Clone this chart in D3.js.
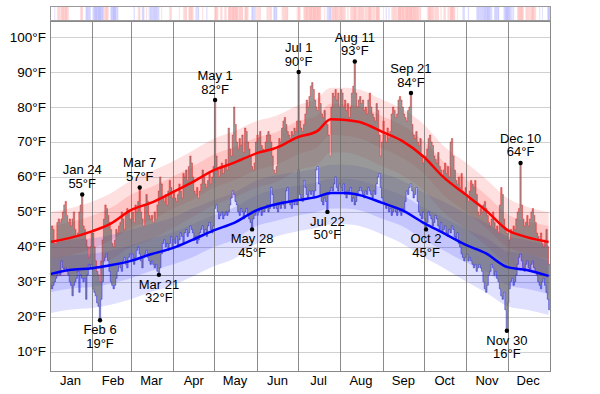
<!DOCTYPE html>
<html>
<head>
<meta charset="utf-8">
<script src="https://cdn.jsdelivr.net/npm/d3@7"></script>
<style>
body { margin: 0; background: #fff; }
text { font-family: "Liberation Sans", Arial, sans-serif; font-size: 13px; fill: #000; }
</style>
</head>
<body>
<svg id="chart" width="600" height="394"></svg>
<script>
var year = 2015;
var monthNames = ["Jan","Feb","Mar","Apr","May","Jun","Jul","Aug","Sep","Oct","Nov","Dec"];
var yTicks = [10,20,30,40,50,60,70,80,90,100];

// observed daily highs / lows (°F), one row per month
var dailyHigh = [].concat(
  [46,46,45,41,41,47,48,47,48,50,52,53,49,47,48,46,48,50,45,43,44,50,52,55,46,45,42,40,37,40,44],
  [44,40,36,33,32,30,36,42,48,52,51,49,47,45,41,40,42,45,44,46,47,50,48,45,49,51,50,48],
  [48,50,47,52,50,53,57,50,48,46,52,55,53,49,48,49,47,50,48,52,56,60,58,54,53,55,52,56,59,57,54],
  [56,54,53,55,58,56,54,61,60,62,59,63,66,64,60,56,55,57,54,56,58,62,60,58,57,59,61,58,60,63],
  [82,66,62,60,63,64,61,63,65,62,74,68,66,72,80,75,70,68,71,69,72,67,74,73,70,68,66,63,62,64,70],
  [72,71,73,69,68,67,70,72,73,72,70,66,62,61,63,68,71,70,74,76,77,75,73,72,71,73,72,74,73,76],
  [90,76,74,73,75,78,82,80,83,86,87,85,82,80,79,84,81,78,77,79,76,75,72,66,80,84,83,85,82,84,80],
  [85,84,80,82,79,81,77,80,84,86,93,84,80,82,83,81,82,79,80,78,82,84,80,78,77,76,81,79,72,66,70],
  [76,72,70,74,71,73,78,80,79,77,78,82,83,82,80,78,77,76,79,80,84,75,72,71,73,70,69,71,66,64],
  [65,66,68,71,72,70,69,66,65,64,67,63,62,60,62,64,61,63,60,70,71,66,62,59,58,60,57,61,56,55,57],
  [55,53,56,59,58,57,59,55,50,49,51,50,52,53,51,49,47,46,48,50,47,45,46,44,52,57,55,48,45,44],
  [38,42,45,44,46,45,48,50,51,64,52,48,46,47,49,46,48,50,51,49,47,44,43,42,44,41,40,42,45,40,35]
);
var dailyLow = [].concat(
  [29,28,29,30,31,32,33,32,36,34,33,34,33,32,30,29,26,29,30,31,33,27,32,31,30,31,25,32,35,34,35],
  [28,27,26,24,23,19,25,30,36,37,38,36,33,30,29,28,29,31,33,35,34,33,36,37,35,34,37,38],
  [36,38,35,37,39,40,38,36,34,37,38,39,37,36,35,36,35,34,35,33,32,34,38,41,42,40,41,39,41,43,40],
  [42,41,43,40,42,44,43,41,44,45,43,44,46,45,44,42,43,41,42,44,45,46,44,45,43,46,47,45,44,46],
  [51,52,50,48,49,50,48,49,50,49,50,52,54,56,55,53,52,50,49,51,50,48,50,51,49,48,47,45,48,49,50],
  [49,50,51,49,50,50,51,52,50,51,57,55,51,52,51,50,52,51,53,52,51,56,57,53,52,51,53,52,53,52],
  [62,55,54,53,59,57,55,54,56,55,56,54,56,62,63,58,55,53,52,54,53,50,55,56,57,56,58,60,57,56,58],
  [57,56,58,55,54,56,55,57,53,54,52,53,55,56,57,56,55,54,56,55,57,56,55,54,56,55,58,60,61,57,54],
  [53,52,51,52,50,51,49,50,51,50,49,51,50,49,51,50,53,56,55,57,58,56,54,55,57,53,50,49,48,50],
  [48,45,47,50,49,48,46,47,49,48,46,45,47,44,45,46,44,43,45,44,46,45,43,42,44,41,40,38,37,36,37],
  [38,36,37,36,35,34,35,33,34,35,34,33,30,28,27,29,32,33,35,34,32,33,31,30,28,26,25,27,22,16],
  [24,28,30,31,29,30,32,35,37,38,36,34,33,35,36,34,33,35,36,34,33,32,30,29,28,30,31,29,27,25,22]
);

// normals, sampled on these days of the year
var normDays = [0,14,31,45,59,73,90,104,120,134,151,165,181,195,205,216,226,243,257,273,287,304,318,334,348,364];
var normHigh = [41.4,42.5,44.5,46.8,50.5,52.5,55.7,58.5,62,64,66.8,68.3,71.4,73.1,76.5,76.3,75.7,72.8,70.3,65.7,60,54.8,50.5,44.8,42.8,41.4];
var normLow  = [32.2,33.4,33.9,34.8,36,37.8,39.7,42,44.8,46.8,50.5,52.2,53.4,54.3,55.4,55.4,54.8,52.5,50.5,46.8,44,40.5,38.2,34.2,33.4,31.7];
var highP90 = [50,51,53,55.5,59,61.5,64.5,67.5,71,73,76,77.5,80.5,82.5,85.5,85.5,85,82,79.5,75,69,64,59.5,54,51.5,50];
var highP75 = [46,47,49,51.3,55,57,60.2,63,66.5,68.5,71.3,72.8,76,77.6,81,80.8,80.2,77.3,74.8,70.2,64.5,59.3,55,49.3,47.3,46];
var highP25 = [36.5,37.5,39.5,42,45.5,47.5,51,53.5,57,59,62,63.5,66.5,68.5,72,71.8,71,68,65.5,61,55,50,45.5,40,38,36.5];
var highP10 = [31,32,34,36.5,40,42,45.5,48.5,52,54,57,58.5,62,63.5,67,67,66,63,60.5,56,50,45,40.5,35,33,31];
var lowP90 = [41,42,42.5,43.5,45,46.5,48.5,51,53.5,55.5,59,60.5,61.5,62.5,63.5,63.5,63,61,59,55.5,53,49.5,47,43,42,40.5];
var lowP75 = [36.5,37.5,38,39,40.5,42.2,44.2,46.5,49.2,51.2,54.8,56.5,57.5,58.5,59.5,59.5,59,56.8,54.8,51.2,48.5,45,42.7,38.7,38,36];
var lowP25 = [27,28,28.5,29.5,31,33,35,37,40,42,46,47.5,49,50,51,51,50.5,48,46,42,39,35.5,33,29,28,26.5];
var lowP10 = [21,22,22.5,23.5,25,27,29,31.5,34.5,36.5,41,43,44.5,45.5,46.5,46.5,46,43.5,41,37,34,30,27,23,22,20.5];

// labelled extremes: month index, day, °F, below the point?
var annoMonth = [0,1,2,2,4,4,6,6,7,8,9,10,11];
var annoDay   = [24,6,7,21,1,28,1,22,11,21,2,30,10];
var annoTemp  = [55,19,57,32,82,45,90,50,93,84,45,16,64];
var annoBelow = [false,true,false,true,false,true,false,true,false,false,true,true,false];

var svg = d3.select("#chart");
var start = new Date(year, 0, 1), end = new Date(year + 1, 0, 1);
var x = d3.scaleTime().domain([start, end]).range([50, 550]);
var y = d3.scaleLinear().domain([4.5, 104.6]).range([371, 21]);
function dayDate(i) { return d3.timeDay.offset(start, i); }

var plot = svg.append("g");

// horizontal grid
plot.selectAll("line.h").data(yTicks).enter().append("line")
  .attr("x1", 50).attr("x2", 550)
  .attr("y1", function(t) { return Math.round(y(t)) + 0.5; })
  .attr("y2", function(t) { return Math.round(y(t)) + 0.5; })
  .attr("stroke", "#d0d0d0");
plot.append("line")
  .attr("x1", 50).attr("x2", 550)
  .attr("y1", Math.round(y(32)) + 0.5).attr("y2", Math.round(y(32)) + 0.5)
  .attr("stroke", "#888");

// percentile bands
var normIdx = normDays.map(function(d, i) { return i; });
function band(lo, hi, fill) {
  plot.append("path").datum(normIdx)
    .attr("d", d3.area()
      .curve(d3.curveMonotoneX)
      .x(function(i) { return x(dayDate(normDays[i])); })
      .y0(function(i) { return y(lo[i]); })
      .y1(function(i) { return y(hi[i]); }))
    .attr("fill", fill);
}
band(highP10, highP90, "rgba(255,0,0,0.12)");
band(highP25, highP75, "rgba(255,0,0,0.12)");
band(lowP10, lowP90, "rgba(0,0,255,0.12)");
band(lowP25, lowP75, "rgba(0,0,255,0.12)");

// daily range bars as a step area
var days = d3.range(dailyHigh.length + 1);
function hi(i) { return dailyHigh[Math.min(i, dailyHigh.length - 1)]; }
function lo(i) { return dailyLow[Math.min(i, dailyLow.length - 1)]; }
plot.append("path").datum(days)
  .attr("d", d3.area().curve(d3.curveStepAfter)
    .x(function(i) { return x(dayDate(i)); })
    .y0(function(i) { return y(lo(i)); })
    .y1(function(i) { return y(hi(i)); }))
  .attr("fill", "rgba(90,90,90,0.62)");
plot.append("path").datum(days)
  .attr("d", d3.line().curve(d3.curveStepAfter)
    .x(function(i) { return x(dayDate(i)); })
    .y(function(i) { return y(hi(i)); }))
  .attr("fill", "none").attr("stroke", "rgba(255,0,0,0.4)").attr("stroke-width", 1);
plot.append("path").datum(days)
  .attr("d", d3.line().curve(d3.curveStepAfter)
    .x(function(i) { return x(dayDate(i)); })
    .y(function(i) { return y(lo(i)); }))
  .attr("fill", "none").attr("stroke", "rgba(0,0,255,0.4)").attr("stroke-width", 1);

// month lines
var months = d3.timeMonth.range(start, end);
plot.selectAll("line.m").data(months.slice(1)).enter().append("line")
  .attr("x1", function(m) { return Math.round(x(m)) + 0.5; })
  .attr("x2", function(m) { return Math.round(x(m)) + 0.5; })
  .attr("y1", 21).attr("y2", 371)
  .attr("stroke", "rgba(110,110,110,0.8)");

// normal lines
function normLine(vals, color) {
  plot.append("path").datum(normIdx)
    .attr("d", d3.line().curve(d3.curveMonotoneX)
      .x(function(i) { return x(dayDate(normDays[i])); })
      .y(function(i) { return y(vals[i]); }))
    .attr("fill", "none").attr("stroke", color).attr("stroke-width", 2.5);
}
normLine(normHigh, "#f00");
normLine(normLow, "#00f");

// frame
svg.append("rect").attr("x", 50.5).attr("y", 21.5).attr("width", 500).attr("height", 350)
  .attr("fill", "none").attr("stroke", "#888");

// y labels
svg.selectAll("text.y").data(yTicks).enter().append("text")
  .attr("x", 46).attr("y", function(t) { return y(t) + 4.5; })
  .attr("text-anchor", "end")
  .style("font-size", "13.5px")
  .text(function(t) { return t + "°F"; });

// month labels
svg.selectAll("text.m").data(months).enter().append("text")
  .attr("x", function(m) { return x(d3.timeDay.offset(m, 15)); })
  .attr("y", 385)
  .attr("text-anchor", "middle")
  .text(function(m, i) { return monthNames[i]; });

// anomaly strip
var strip = svg.append("g");
strip.selectAll("rect").data(d3.range(dailyHigh.length)).enter().append("rect")
  .attr("x", function(i) { return x(dayDate(i)); })
  .attr("width", function(i) { return x(dayDate(i + 1)) - x(dayDate(i)) + 0.3; })
  .attr("y", 6).attr("height", 14)
  .attr("fill", function(i) {
    var nh = d3.scaleLinear().domain(normDays).range(normHigh)(i);
    var nl = d3.scaleLinear().domain(normDays).range(normLow)(i);
    var a = (dailyHigh[i] + dailyLow[i]) / 2 - (nh + nl) / 2;
    if (Math.abs(a) < 1.5) return "#fff";
    var op = Math.min(0.2, 0.06 + Math.abs(a) * 0.025);
    return a > 0 ? "rgba(255,0,0," + op + ")" : "rgba(0,0,255," + op + ")";
  });
svg.append("rect").attr("x", 50.5).attr("y", 6.5).attr("width", 500).attr("height", 14)
  .attr("fill", "none").attr("stroke", "#999");

// extremes: dot plus a two-line label
var anno = svg.append("g");
annoTemp.forEach(function(t, k) {
  var px = x(new Date(year, annoMonth[k], annoDay[k])) + 0.7;
  var py = y(t);
  anno.append("circle").attr("cx", px).attr("cy", py).attr("r", 2.2).attr("fill", "#000");
  var lab = anno.append("text").attr("text-anchor", "middle");
  lab.append("tspan").attr("x", px).attr("y", annoBelow[k] ? py + 14 : py - 20)
    .text(monthNames[annoMonth[k]] + " " + annoDay[k]);
  lab.append("tspan").attr("x", px).attr("dy", 13.5).text(t + "°F");
});
</script>
</body>
</html>
